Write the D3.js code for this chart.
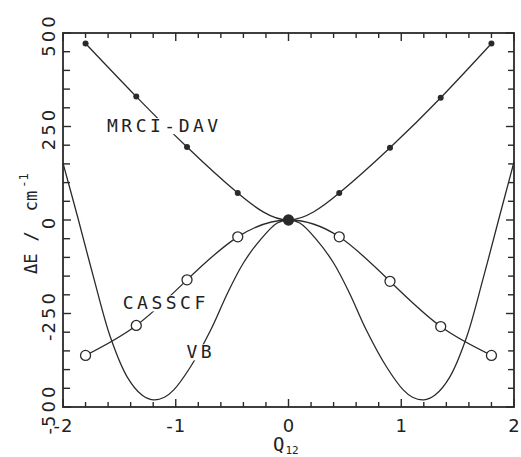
<!DOCTYPE html>
<html>
<head>
<meta charset="utf-8">
<script src="https://cdn.jsdelivr.net/npm/d3@7"></script>
<style>
  html, body { margin: 0; padding: 0; background: #fff; }
  svg { display: block; }
  text { font-family: "DejaVu Sans Mono", "Liberation Mono", monospace; fill: #222; }
  text.num { font-family: "DejaVu Sans", "Liberation Sans", sans-serif; }
</style>
</head>
<body>
<svg id="chart" width="521" height="457"></svg>
<script>
// ---- data ----
const qPoints = [-1.8, -1.35, -0.9, -0.45, 0, 0.45, 0.9, 1.35, 1.8];
const eMRCI   = [472, 330, 195, 72, 0, 72, 193, 327, 472];
const eCASSCF = [-362, -282, -160, -45, 0, -45, -164, -285, -362];

const qVB = [-2.0, -1.87, -1.73, -1.58, -1.43, -1.3, -1.2, -1.1, -1.02, -0.87, -0.69, -0.54, -0.40, -0.25, -0.10, 0,
              0.10, 0.25, 0.40, 0.54, 0.69, 0.87, 1.02, 1.1, 1.2, 1.3, 1.43, 1.58, 1.73, 1.87, 2.0];
const eVB = [152, 8, -152, -313, -420, -468, -481, -474, -455, -393, -294, -195, -115, -53, -8, 0,
             -8, -53, -115, -195, -294, -393, -455, -474, -481, -468, -420, -313, -152, 8, 155];

const xTickLabels = [-2, -1, 0, 1, 2];
const yTickLabels = [-500, -250, 0, 250, 500];
const xMinorStep = 0.2;
const yMinorStep = 50;

const curveLabels = [
  { text: "MRCI-DAV", q: -1.61, e: 235 },
  { text: "CASSCF",   q: -1.47, e: -239 },
  { text: "VB",       q: -0.905, e: -370 }
];

// ---- layout ----
const svg = d3.select("#chart");
const x = d3.scaleLinear().domain([-2, 2]).range([63, 514]);
const y = d3.scaleLinear().domain([-500, 500]).range([407, 33]);
const ink = "#2a2a2a";

const xMinor = d3.range(-2, 2 + 1e-9, xMinorStep).map(v => +v.toFixed(2));
const yMinor = d3.range(-500, 500 + 1e-9, yMinorStep);

// ticks (inward on all four sides)
function tickLines(g, vals, fn) {
  g.selectAll("line").data(vals).join("line")
    .attr("stroke", ink).attr("stroke-width", 1.4)
    .each(function(d) { const c = fn(d); d3.select(this).attr("x1", c[0]).attr("y1", c[1]).attr("x2", c[2]).attr("y2", c[3]); });
}
const isMajorX = v => Math.abs(v - Math.round(v)) < 1e-6;
const isMajorY = v => v % 250 === 0;
const [x0, x1] = x.range();
const [yb, yt] = y.range();
tickLines(svg.append("g"), xMinor, v => { const L = isMajorX(v) ? 8 : 5; return [x(v), yb, x(v), yb - L]; });
tickLines(svg.append("g"), xMinor, v => { const L = isMajorX(v) ? 8 : 5; return [x(v), yt, x(v), yt + L]; });
tickLines(svg.append("g"), yMinor, v => { const L = isMajorY(v) ? 8 : 7; return [x0, y(v), x0 + L, y(v)]; });
tickLines(svg.append("g"), yMinor, v => { const L = isMajorY(v) ? 8 : 6; return [x1, y(v), x1 - L, y(v)]; });

// frame
svg.append("rect")
  .attr("x", x0).attr("y", yt).attr("width", x1 - x0).attr("height", yb - yt)
  .attr("fill", "none").attr("stroke", ink).attr("stroke-width", 1.8);

// tick labels (minus kept tight, digits spaced)
function numLabel(sel, spacing) {
  sel.each(function(d) {
    const t = d3.select(this);
    if (d < 0) t.append("tspan").attr("letter-spacing", 1).text("-");
    t.append("tspan").attr("letter-spacing", spacing).text(String(Math.abs(d)));
  });
}
svg.append("g").selectAll("text").data(xTickLabels).join("text")
  .attr("class", "num")
  .attr("x", d => x(d))
  .attr("y", 432)
  .attr("text-anchor", "middle")
  .attr("font-size", 18)
  .call(numLabel, 0);

svg.append("g").selectAll("text").data(yTickLabels).join("text")
  .attr("class", "num")
  .attr("transform", d => `translate(55,${y(d) + 2}) rotate(-90)`)
  .attr("text-anchor", "middle")
  .attr("font-size", 18)
  .call(numLabel, 3);

// axis titles
const yt1 = svg.append("text")
  .attr("transform", "translate(37,274) rotate(-90)")
  .attr("font-size", 17)
  .attr("text-anchor", "start");
yt1.append("tspan").text("\u0394E");
yt1.append("tspan").attr("dx", 12).text("/");
yt1.append("tspan").attr("dx", 20).text("cm");
yt1.append("tspan").attr("font-size", 12).attr("dy", -9).attr("dx", 3).text("-1");

const xt = svg.append("text")
  .attr("x", 273).attr("y", 451)
  .attr("font-size", 19)
  .attr("text-anchor", "start");
xt.append("tspan").text("Q");
xt.append("tspan").attr("font-size", 11).attr("dy", 3).attr("dx", 1).text("12");

// curves
const line = d3.line().x(d => x(d[0])).y(d => y(d[1]));
const plot = svg.append("g");
plot.append("path")
  .datum(qVB.map((q, i) => [q, eVB[i]]))
  .attr("d", line.curve(d3.curveCatmullRom.alpha(0.5)))
  .attr("fill", "none").attr("stroke", ink).attr("stroke-width", 1.3);
plot.append("path")
  .datum(qPoints.map((q, i) => [q, eMRCI[i]]))
  .attr("d", line.curve(d3.curveNatural))
  .attr("fill", "none").attr("stroke", ink).attr("stroke-width", 1.3);
plot.append("path")
  .datum(qPoints.map((q, i) => [q, eCASSCF[i]]))
  .attr("d", line.curve(d3.curveNatural))
  .attr("fill", "none").attr("stroke", ink).attr("stroke-width", 1.3);

// labels with white knock-out
const lab = svg.append("g");
curveLabels.forEach(l => {
  const g = lab.append("g");
  const t = g.append("text")
    .attr("x", x(l.q)).attr("y", y(l.e))
    .attr("font-size", 18)
    .attr("letter-spacing", 3.5)
    .text(l.text);
  const b = t.node().getBBox();
  g.insert("rect", "text")
    .attr("x", b.x - 1).attr("y", b.y + 3).attr("width", b.width - 2).attr("height", b.height - 5)
    .attr("fill", "#fff");
});

// markers
svg.append("g").selectAll("circle").data(qPoints.map((q, i) => [q, eCASSCF[i], eMRCI[i]])).join("circle")
  .attr("cx", d => x(d[0])).attr("cy", d => y(d[1]))
  .attr("r", 5)
  .attr("fill", d => d[1] === d[2] ? ink : "#fff")
  .attr("stroke", ink).attr("stroke-width", 1.3);
svg.append("g").selectAll("circle").data(qPoints.map((q, i) => [q, eMRCI[i]])).join("circle")
  .attr("cx", d => x(d[0])).attr("cy", d => y(d[1]))
  .attr("r", 3)
  .attr("fill", ink);
</script>
</body>
</html>
